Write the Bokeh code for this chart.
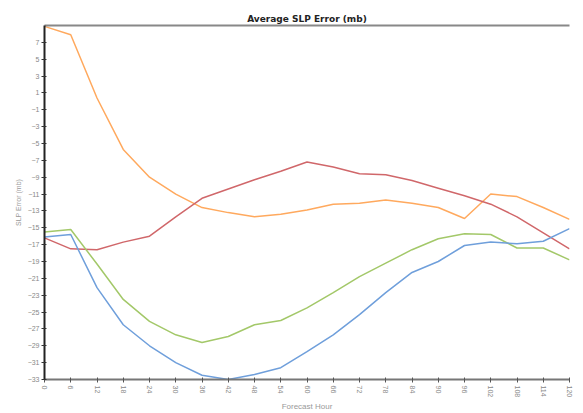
from bokeh.plotting import figure
from bokeh.embed import file_html
from bokeh.resources import INLINE
from bokeh.models import LinearAxis, FixedTicker, Range1d
import math

hours = [0, 6, 12, 18, 24, 30, 36, 42, 48, 54, 60, 66, 72, 78, 84, 90, 96, 102, 108, 114, 120]
orange = [8.9, 7.9, 0.4, -5.7, -9.0, -11.0, -12.6, -13.2, -13.7, -13.4, -12.9, -12.2, -12.1, -11.7, -12.1, -12.6, -13.9, -11.0, -11.3, -12.6, -14.0]
red = [-16.2, -17.5, -17.6, -16.7, -16.0, -13.7, -11.5, -10.4, -9.3, -8.3, -7.2, -7.8, -8.6, -8.7, -9.4, -10.3, -11.2, -12.2, -13.7, -15.6, -17.5]
green = [-15.5, -15.2, -19.3, -23.5, -26.1, -27.7, -28.6, -27.9, -26.5, -26.0, -24.5, -22.7, -20.8, -19.2, -17.6, -16.3, -15.7, -15.8, -17.4, -17.4, -18.8]
blue = [-16.1, -15.8, -22.1, -26.5, -29.0, -31.0, -32.5, -33.0, -32.4, -31.6, -29.7, -27.7, -25.3, -22.7, -20.3, -19.0, -17.1, -16.7, -16.9, -16.6, -15.1]
y_ticks = list(range(-33, 8, 2))

series = [(orange, "#FFA95E"), (red, "#D0676A"), (green, "#A3C869"), (blue, "#6F9FDB")]

p = figure(width=583, height=413, output_backend="svg", toolbar_location=None,
           x_range=Range1d(0, 120), y_range=Range1d(-33, 9),
           title="Average SLP Error (mb)",
           min_border_left=44, min_border_right=14, min_border_top=25, min_border_bottom=34,
           x_axis_label="Forecast Hour", y_axis_label="SLP Error (mb)")
p.frame_width = 525
p.frame_height = 354
p.outline_line_color = None
p.grid.visible = False
p.title.align = "center"
p.title.text_font = "DejaVu Sans"
p.title.text_font_size = "9px"
p.title.text_font_style = "bold"
p.title.text_color = "#222222"
p.title.offset = 0
p.title.standoff = 3

for ys, c in series:
    p.line(hours, ys, line_color=c, line_width=1.5)

xa = p.xaxis[0]
xa.ticker = FixedTicker(ticks=hours)
xa.major_label_orientation = -math.pi / 2
xa.major_label_text_font_size = "7px"
xa.major_label_text_color = "#888888"
xa.axis_line_color = "#777777"
xa.axis_line_width = 2
xa.major_tick_line_color = "#555555"
xa.major_tick_in = 2
xa.major_tick_out = 3
xa.minor_tick_line_color = None
xa.axis_label_text_font_size = "8px"
xa.axis_label_text_font_style = "normal"
xa.axis_label_text_color = "#999999"
xa.axis_label_standoff = 2
xa.major_label_standoff = 3

ya = p.yaxis[0]
ya.ticker = FixedTicker(ticks=y_ticks)
ya.major_label_text_font_size = "7px"
ya.major_label_text_color = "#888888"
ya.axis_line_color = "#222222"
ya.axis_line_width = 2
ya.major_tick_line_color = "#333333"
ya.major_tick_in = 2
ya.major_tick_out = 3
ya.minor_tick_line_color = None
ya.axis_label_text_font_size = "7px"
ya.axis_label_text_font_style = "normal"
ya.axis_label_text_color = "#999999"
ya.axis_label_standoff = 3
ya.major_label_standoff = 2

top = LinearAxis(axis_line_color="#888888", axis_line_width=2,
                 major_tick_line_color=None, minor_tick_line_color=None,
                 major_label_text_font_size="0px")
top.ticker = FixedTicker(ticks=[])
p.add_layout(top, "above")

open("out.html", "w").write(file_html(p, INLINE))
